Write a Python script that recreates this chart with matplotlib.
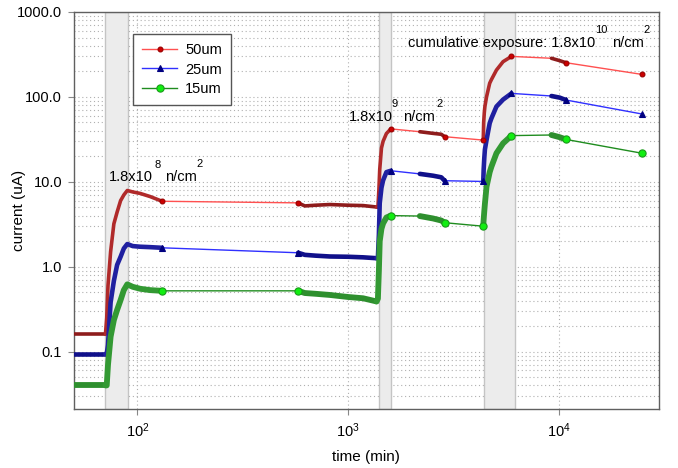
import matplotlib
matplotlib.use('Agg')
import matplotlib.pyplot as plt
from matplotlib.ticker import FixedLocator, NullLocator, LogLocator, NullFormatter, FixedFormatter
from matplotlib.lines import Line2D

plt.rcParams['font.family'] = ['Liberation Sans', 'DejaVu Sans']
plt.rcParams['mathtext.fontset'] = 'custom'
plt.rcParams['mathtext.rm'] = 'Liberation Sans'
plt.rcParams['mathtext.it'] = 'Liberation Sans'

# ---------------- data (time in min, current in uA) ----------------
T_BASE = [40.0, 70.5]
T_DOSE1 = [70.5, 71.5, 72.5, 74.6, 77.3, 80.1, 83.2, 86.2, 89.5, 95.0, 103.0, 115.0, 131.0]
T_REST1 = [579, 623, 700, 819, 1000, 1178, 1364]
T_DOSE2 = [1364, 1385, 1400, 1413, 1440, 1466, 1520, 1595]
T_REST2 = [2190, 2530, 2770, 2870]
T_DOSE3 = [4380, 4400, 4430, 4460, 4540, 4700, 4790, 5060, 5440, 5964]
T_REST3 = [9232, 10110, 10796]
T_END = [24830]

I50_BASE = [0.16, 0.16]
I50_DOSE1 = [0.16, 0.25, 0.6, 1.5, 3.2, 4.4, 6.0, 7.0, 7.9, 7.6, 7.3, 6.7, 5.9]
I50_REST1 = [5.65, 5.2, 5.3, 5.4, 5.3, 5.25, 5.05]
I50_DOSE2 = [5.05, 5.0, 8.0, 14.0, 25.0, 30.0, 37.0, 42.0]
I50_REST2 = [38.9, 37.2, 36.3, 34.0]
I50_DOSE3 = [31.0, 50.0, 65.0, 77.0, 100.0, 145.0, 160.0, 207.0, 260.0, 300.0]
I50_REST3 = [285.0, 267.0, 253.0]
I50_END = [184.0]

I25_BASE = [0.094, 0.094]
I25_DOSE1 = [0.094, 0.094, 0.12, 0.38, 0.68, 1.05, 1.31, 1.64, 1.85, 1.75, 1.72, 1.70, 1.67]
I25_REST1 = [1.46, 1.38, 1.35, 1.32, 1.31, 1.29, 1.26]
I25_DOSE2 = [1.26, 1.27, 2.4, 5.6, 8.5, 10.4, 13.0, 13.5]
I25_REST2 = [12.4, 11.8, 11.3, 10.3]
I25_DOSE3 = [10.1, 14.0, 19.0, 24.0, 31.0, 49.0, 56.0, 77.0, 93.0, 110.0]
I25_REST3 = [102.5, 98.0, 92.0]
I25_END = [62.9]

I15_BASE = [0.040, 0.040]
I15_DOSE1 = [0.040, 0.040, 0.07, 0.15, 0.235, 0.31, 0.405, 0.53, 0.62, 0.58, 0.55, 0.53, 0.52]
I15_REST1 = [0.52, 0.49, 0.48, 0.465, 0.44, 0.425, 0.39]
I15_DOSE2 = [0.39, 0.42, 0.9, 2.0, 2.8, 3.24, 3.8, 4.0]
I15_REST2 = [3.95, 3.7, 3.5, 3.3]
I15_DOSE3 = [3.0, 3.6, 4.5, 5.5, 8.75, 13.0, 15.1, 21.7, 28.4, 35.0]
I15_REST3 = [35.6, 33.5, 31.6]
I15_END = [21.7]

IRR_START = [70, 1400, 4400]
IRR_END = [90, 1600, 6200]

LABELS = ['50um', '25um', '15um']
Y_TICKS = [0.1, 1.0, 10.0, 100.0, 1000.0]
Y_TICK_LABELS = ['0.1', '1.0', '10.0', '100.0', '1000.0']
X_TICKS = [100, 1000, 10000]
X_TICK_LABELS = [r'$\mathregular{10^{2}}$', r'$\mathregular{10^{3}}$', r'$\mathregular{10^{4}}$']

# ---------------- figure ----------------
W, H = 678, 468
fig = plt.figure(figsize=(W / 100, H / 100), dpi=100)
AX_L, AX_R, AX_T, AX_B = 74, 659.3, 12, 409
ax = fig.add_axes([AX_L / W, (H - AX_B) / H, (AX_R - AX_L) / W, (AX_B - AX_T) / H])
ax.set_xscale('log')
ax.set_yscale('log')
ax.set_xlim(50, 30000)
ax.set_ylim(0.0211, 1000)

for s, e in zip(IRR_START, IRR_END):
    ax.axvspan(s, e, facecolor='#ececec', edgecolor='#c4c4c4', lw=1.0, zorder=1)

styles = [
    dict(thin='#ff5050', dense='#8e1c1c', rise='#b02a2a', mk='o', mfc='#cc0000', mec='#990000', ms=3.5, lw=2.6),
    dict(thin='#3030ff', dense='#10108a', rise='#2020a0', mk='^', mfc='#000080', mec='#000080', ms=4.2, lw=3.3),
    dict(thin='#1f8c1f', dense='#2e8f2e', rise='#339933', mk='o', mfc='#11ee11', mec='#1a9a1a', ms=5.2, lw=4.2),
]

series = [
    (I50_BASE, I50_DOSE1, I50_REST1, I50_DOSE2, I50_REST2, I50_DOSE3, I50_REST3, I50_END),
    (I25_BASE, I25_DOSE1, I25_REST1, I25_DOSE2, I25_REST2, I25_DOSE3, I25_REST3, I25_END),
    (I15_BASE, I15_DOSE1, I15_REST1, I15_DOSE2, I15_REST2, I15_DOSE3, I15_REST3, I15_END),
]

for st, (b, d1, r1, d2, r2, d3, r3, en) in zip(styles, series):
    t_all = T_BASE + T_DOSE1[1:] + T_REST1 + T_DOSE2[1:] + T_REST2 + T_DOSE3 + T_REST3 + T_END
    i_all = b + d1[1:] + r1 + d2[1:] + r2 + d3 + r3 + en
    ax.plot(t_all, i_all, color=st['thin'], lw=1.0, zorder=2)
    blocks = [
        (T_BASE, b, st['dense']),
        (T_DOSE1, d1, st['rise']),
        (T_REST1, r1, st['dense']),
        (T_DOSE2, d2, st['rise']),
        (T_REST2, r2, st['dense']),
        (T_DOSE3, d3, st['rise']),
        (T_REST3, r3, st['dense']),
    ]
    for tt, ii, c in blocks:
        ax.plot(tt, ii, color=c, lw=st['lw'], solid_capstyle='round', solid_joinstyle='round', zorder=3)
    ends_t = [T_DOSE1[-1], T_REST1[0], T_DOSE2[-1], T_REST2[-1], T_DOSE3[0], T_DOSE3[-1],
              T_REST3[-1], T_END[0]]
    ends_i = [d1[-1], r1[0], d2[-1], r2[-1], d3[0], d3[-1], r3[-1], en[0]]
    ax.plot(ends_t, ends_i, ls='none', marker=st['mk'], ms=st['ms'], mfc=st['mfc'], mec=st['mec'],
            mew=0.8, zorder=4)

# axes styling
ax.yaxis.set_major_locator(FixedLocator(Y_TICKS))
ax.yaxis.set_major_formatter(FixedFormatter(Y_TICK_LABELS))
ax.yaxis.set_minor_locator(LogLocator(base=10, subs=[2, 3, 4, 5, 6, 7, 8, 9], numticks=20))
ax.yaxis.set_minor_formatter(NullFormatter())
ax.xaxis.set_major_locator(FixedLocator(X_TICKS))
ax.xaxis.set_major_formatter(FixedFormatter(X_TICK_LABELS))
ax.xaxis.set_minor_locator(NullLocator())

ax.grid(which='both', axis='y', ls=(0, (1, 2.5)), color='#b0b0b0', lw=0.8, zorder=0)
ax.grid(which='major', axis='x', ls=(0, (1, 2.5)), color='#b0b0b0', lw=0.8, zorder=0)
ax.set_axisbelow(True)

ax.tick_params(axis='y', which='major', labelsize=10.5, length=4, width=0.8, color='#888888', pad=4.5)
ax.tick_params(axis='x', which='major', labelsize=10.5, length=4, width=0.8, color='#888888', pad=5)
ax.tick_params(which='minor', length=0)
for sp in ax.spines.values():
    sp.set_color('#606060')
    sp.set_linewidth(1.0)

fig.text(19 / W, 1 - 210 / H, 'current (uA)', rotation=90, ha='center', va='center', fontsize=11)
fig.text(366 / W, 1 - 457 / H, 'time (min)', ha='center', va='center', fontsize=11)


def axpos(x, y):
    return ((x - AX_L) / (AX_R - AX_L), (AX_B - y) / (AX_B - AX_T))


def note(x, y, s, fs=10.5, ha='left'):
    ax.text(*axpos(x, y), s, transform=ax.transAxes, fontsize=fs, ha=ha, va='center', zorder=6)


note(109.3, 176.7, '1.8x10')
note(157.3, 165, '8', fs=8, ha='center')
note(165, 176.7, 'n/cm')
note(199.3, 164, '2', fs=8, ha='center')

note(349.3, 116.7, '1.8x10')
note(395, 104, '9', fs=8, ha='center')
note(403.3, 116.7, 'n/cm')
note(439.3, 104, '2', fs=8, ha='center')

note(595, 42.7, 'cumulative exposure: 1.8x10', ha='right')
note(601.3, 30, '10', fs=8, ha='center')
note(611.7, 42.7, 'n/cm')
note(646.7, 30, '2', fs=8, ha='center')

handles = [Line2D([], [], color=st['thin'], lw=1.0, marker=st['mk'], ms=st['ms'], mfc=st['mfc'],
                  mec=st['mec'], mew=0.8) for st in styles]
leg = ax.legend(handles, LABELS, loc='upper left', bbox_to_anchor=axpos(133, 34), borderaxespad=0,
                fontsize=10.5, frameon=True, fancybox=False, framealpha=1, edgecolor='#555555',
                handlelength=2.4, handletextpad=0.55, labelspacing=0.38, borderpad=0.62, numpoints=1)
leg.get_frame().set_linewidth(1.0)
leg.set_zorder(7)

fig.savefig('out.png', dpi=100)
